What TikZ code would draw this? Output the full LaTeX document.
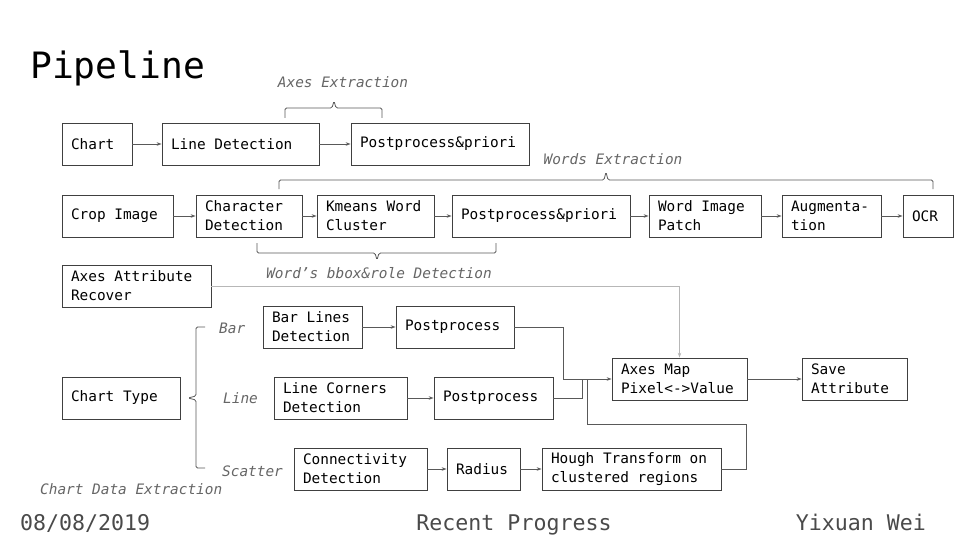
\documentclass[tikz,border=0pt]{standalone}
\usepackage{fontspec}
\setmainfont{DejaVu Sans Mono}
\usetikzlibrary{arrows.meta}
\definecolor{boxc}{HTML}{404040}
\definecolor{arrc}{HTML}{595959}
\definecolor{labc}{HTML}{666666}
\definecolor{lightc}{HTML}{B7B7B7}
\definecolor{footc}{HTML}{4A4A4A}
\begin{document}
\begin{tikzpicture}[x=1pt,y=-1pt,
 box/.style={draw=boxc, line width=0.8pt, minimum height=42pt, inner xsep=9pt, inner ysep=0pt, align=flush left, font=\fontsize{14.4}{19}\selectfont, text=black},
 conn/.style={draw=arrc, line width=0.8pt},
 arr/.style={conn, -{Stealth[length=5pt,width=3.5pt]}},
 lab/.style={font=\fontsize{14.4}{19}\selectfont\itshape, text=labc, inner sep=0pt},
 foot/.style={font=\fontsize{21.6}{26}\selectfont, text=footc, inner sep=0pt},
 bracec/.style={draw=arrc, line width=0.8pt, rounded corners=1.5pt}
]
\useasboundingbox[fill=white] (0,0) rectangle (960,540);

% title
\node[anchor=base west, inner sep=0pt, font=\fontsize{36.3}{40}\selectfont] (title) at (30,79) {Pipeline};

% row 1
\node[box, text width=52pt]  (chart)   at (97,144)   {Chart};
\node[box, text width=139pt] (linedet) at (240.5,144) {Line Detection};
\node[box, text width=160pt] (post1)   at (440,144)  {Postprocess\&priori};

% row 2
\node[box, text width=93pt]  (crop)    at (117.5,216) {Crop Image};
\node[box, text width=88pt]  (chardet) at (249,216)   {Character\\Detection};
\node[box, text width=99pt]  (kmeans)  at (375.5,216) {Kmeans Word\\Cluster};
\node[box, text width=160pt] (post2)   at (541,216)   {Postprocess\&priori};
\node[box, text width=94pt]  (wpatch)  at (705,216)   {Word Image\\Patch};
\node[box, text width=81pt]  (augm)    at (831.5,216) {Augmenta-\\tion};
\node[box, text width=32pt]  (ocr)     at (928,216)   {OCR};

% lower part
\node[box, text width=131pt] (axattr)  at (136.5,286) {Axes Attribute\\Recover};
\node[box, text width=81pt]  (barl)    at (312.5,327) {Bar Lines\\Detection};
\node[box, text width=100pt] (barpost) at (455,327)   {Postprocess};
\node[box, text width=100pt] (ctype)   at (121,398)   {Chart Type};
\node[box, text width=115pt] (lcorn)   at (340.5,398) {Line Corners\\Detection};
\node[box, text width=101pt] (lpost)   at (493.5,398) {Postprocess};
\node[box, text width=115pt] (connd)   at (360.5,469) {Connectivity\\Detection};
\node[box, text width=55pt]  (radius)  at (483.5,469) {Radius};
\node[box, text width=161pt] (hough)   at (631.5,469) {Hough Transform on\\clustered regions};
\node[box, text width=117pt] (axmap)   at (679.5,379) {Axes Map\\Pixel<->Value};
\node[box, text width=87pt]  (save)    at (854.5,379) {Save\\Attribute};

% labels
\node[lab] (laxes)  at (343,82)  {Axes Extraction};
\node[lab] (lwords) at (613,159) {Words Extraction};
\node[lab] (lbbox)  at (379,273) {Word’s bbox\&role Detection};
\node[lab, anchor=west] (lbar)  at (219,328) {Bar};
\node[lab, anchor=west] (lline) at (223,398) {Line};
\node[lab, anchor=west] (lscat) at (222,471) {Scatter};
\node[lab, anchor=west] (lcde)  at (40,489)  {Chart Data Extraction};

% footer
\node[foot, anchor=base west] (fdate) at (20,530)  {08/08/2019};
\node[foot, anchor=base]      (fprog) at (514,530) {Recent Progress};
\node[foot, anchor=base east] (fname) at (926,530) {Yixuan Wei};

% connectors row 1, 2
\draw[arr] (chart) -- (linedet);
\draw[arr] (linedet) -- (post1);
\draw[arr] (crop) -- (chardet);
\draw[arr] (chardet) -- (kmeans);
\draw[arr] (kmeans) -- (post2);
\draw[arr] (post2) -- (wpatch);
\draw[arr] (wpatch) -- (augm);
\draw[arr] (augm) -- (ocr);

% lower connectors
\draw[arr] (barl) -- (barpost);
\draw[arr] (lcorn) -- (lpost);
\draw[arr] (connd) -- (radius);
\draw[arr] (radius) -- (hough);
\draw[arr] (axmap) -- (save);
\coordinate (jbar) at (563,327);
\coordinate (jline) at (582,379);
\coordinate (jh1) at (746,469);
\coordinate (jh2) at (746,424);
\coordinate (jh3) at (587,424);
\coordinate (jh4) at (587,379);
\draw[arr] (barpost.east) -- (jbar) |- (axmap.west);
\draw[conn] (lpost.east) -| (jline);
\draw[conn] (hough.east) -- (jh1) -- (jh2) -- (jh3) -- (jh4);
\draw[arr, draw=lightc] (axattr.east) -| (axmap.north);

% braces
\draw[bracec] (285,118) -- (285,108) -- (332,108) -- (334,101) -- (336,108) -- (382,108) -- (382,118);
\draw[bracec] (279,189) -- (279,180) -- (604,180) -- (606,172) -- (608,180) -- (933,180) -- (933,189);
\draw[bracec] (257,243) -- (257,253) -- (375,253) -- (377,260) -- (379,253) -- (496,253) -- (496,243);
\draw[bracec] (205,327) -- (196,327) -- (196,396) -- (188,398) -- (196,400) -- (196,468) -- (205,468);
\end{tikzpicture}
\end{document}
